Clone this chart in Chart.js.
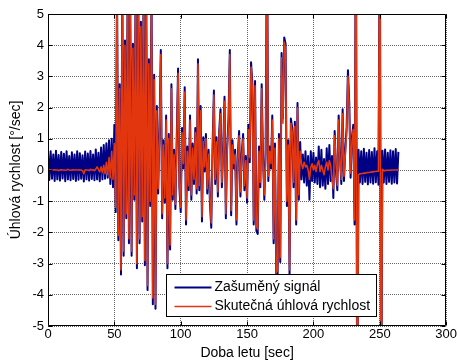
<!DOCTYPE html>
<html>
<head>
<meta charset="utf-8">
<script src="https://cdn.jsdelivr.net/npm/chart.js@4/dist/chart.umd.min.js"></script>
<style>
  html, body { margin: 0; padding: 0; background: #fff; }
  #wrap { width: 458px; height: 362px; }
</style>
</head>
<body>
<div id="wrap"><canvas id="chart" width="458" height="362"></canvas></div>
<script>
// Sampling period of both records [s]; sample i is taken at i * sampleStep.
const sampleStep = 1;

// Measured (noisy) angular rate [deg/s], t = 0 … 264 s
const noisySignal = [
  0.55,-0.32,0.6,-0.28,0.5,-0.35,0.62,-0.3,0.48,-0.34,
  0.58,-0.27,0.52,-0.36,0.6,-0.3,0.45,-0.33,0.57,-0.29,
  0.5,-0.35,0.6,-0.31,0.54,-0.28,0.47,-0.37,0.59,-0.3,
  0.53,-0.34,0.61,-0.29,0.5,-0.33,0.66,-0.3,0.55,-0.36,
  0.72,-0.3,0.8,-0.28,0.86,-0.25,0.95,-0.45,1.0,-0.55,
  1.45,-1.35,6,-2.25,2.75,-3.35,6,-2.75,4.15,-1.55,
  6,-2.35,5.15,-2.75,4.05,-0.95,6,-3.15,6,-2.35,
  4.75,-1.65,6,-3.05,6,-3.85,3.55,-1.15,6,-4.3,
  3.05,-4.45,2.05,-0.75,1.35,3.85,-1.55,0.95,-1.05,1.75,
  -3.15,1.15,-2.55,2.75,-0.95,0.65,-1.25,1.05,3.25,-0.55,
  -1.35,1.35,0.05,2.65,-1.75,0.75,-0.65,1.75,-0.95,0.85,
  -0.45,1.35,-0.75,3.55,-0.65,2.05,-1.65,1.05,-0.05,1.15,
  -0.75,0.65,-1.05,-1.85,0.75,2.55,-0.45,1.05,-0.85,1.25,
  1.95,-0.55,0.65,2.35,-1.55,0.75,1.65,3.85,-1.45,0.95,
  0.05,0.65,-1.75,0.45,1.25,-0.85,0.55,1.15,-0.65,0.45,
  -1.05,1.45,0.25,3.45,2.75,-1.75,2.85,-1.95,-2.05,0.75,
  -0.55,2.75,0.45,-0.95,0.65,8,-0.35,0.75,0.05,1.75,
  -2.35,0.85,-3.45,-3.35,1.15,-2.95,3.75,1.65,4.25,4.05,
  -1.15,0.95,-3.35,1.65,1.35,-0.55,1.55,-1.75,2.15,-0.95,
  0.9,-0.3,0.5,-0.4,0.6,-0.5,0.45,-0.95,0.6,-0.35,
  0.55,-0.4,0.4,-0.45,0.75,-0.55,0.65,-0.5,0.35,-0.6,
  0.7,-0.45,0.8,-0.35,0.45,-0.9,1.25,-0.05,-0.65,1.75,
  0.45,-0.45,1.95,-0.35,0.65,1.35,3.2,2.15,-0.25,1.05,
  1.45,-1.75,9,-9,0.65,-0.4,0.6,-0.45,0.68,-0.38,
  0.55,-0.46,0.64,-0.4,0.58,-0.44,0.7,-0.39,0.6,-0.47,
  9,-9,0.62,-0.4,0.66,-0.45,0.55,-0.38,0.63,-0.44,
  0.6,-0.4,0.67,-0.43,0.58
];

// True angular rate [deg/s], t = 0 … 264 s
const trueRate = [
  0,0.01,0,-0.01,0,0.01,0,0,-0.02,0,
  0.01,0,0,-0.01,0,0.02,0,-0.01,0,0.01,
  0,0,0,0,0.01,0,-0.02,-0.12,0.01,0,
  0,-0.02,0.02,0,0.01,-0.02,0.03,0.1,0.02,-0.06,
  0.1,-0.08,0.15,-0.12,0.25,-0.15,0.4,-0.25,0.6,-0.3,
  0.85,-1.2,5.8,-2.1,2.6,-3.2,6,-2.6,4.0,-1.4,
  6,-2.2,5.0,-2.6,3.9,-0.8,5.6,-3.0,6,-2.2,
  4.6,-1.5,5.5,-2.9,6,-3.7,3.4,-1.0,5.5,-4.1,
  2.9,-4.3,1.9,-0.6,1.2,3.7,-1.4,0.8,-0.9,1.6,
  -3.0,1.0,-2.4,2.6,-0.8,0.5,-1.1,0.9,3.1,-0.4,
  -1.2,1.2,0.2,2.5,-1.6,0.6,-0.5,1.6,-0.8,0.7,
  -0.3,1.2,-0.6,3.4,-0.5,1.9,-1.5,0.9,0.1,1.0,
  -0.6,0.5,-0.9,-1.7,0.6,2.4,-0.3,0.9,-0.7,1.1,
  1.8,-0.4,0.5,2.2,-1.4,0.6,1.5,3.7,-1.3,0.8,
  0.2,0.5,-1.6,0.3,1.1,-0.7,0.4,1.0,-0.5,0.3,
  -0.9,1.3,0.4,3.3,2.6,-1.6,2.7,-1.8,-1.9,0.6,
  -0.4,2.6,0.3,-0.8,0.5,8,-0.2,0.6,0.2,1.6,
  -2.2,0.7,-3.3,-3.2,1.0,-2.8,3.6,1.5,4.1,3.9,
  -1.0,0.8,-3.2,1.5,1.2,-0.4,1.4,-1.6,2.0,-0.8,
  0.6,0.2,0.05,0.25,0.1,0.15,0,-0.3,0.1,0.2,
  0,0.15,-0.05,0.2,0.3,-0.05,0.15,0,-0.15,0.1,
  0.25,0,0.3,0.15,-0.3,-0.6,1.1,0.2,-0.5,1.6,
  0.3,-0.3,1.8,-0.2,0.5,1.2,3.0,2.0,-0.1,0.9,
  1.3,-1.6,9,-9,-0.15,-0.12,-0.12,-0.11,-0.1,-0.1,
  -0.09,-0.08,-0.08,-0.07,-0.06,-0.06,-0.05,-0.05,-0.04,-0.04,
  9,-9,0.02,-0.02,-0.02,-0.01,-0.01,-0.01,-0.01,0,
  0,0,0,0,0
];

const xTicks = [0, 50, 100, 150, 200, 250, 300];
const yTicks = [-5, -4, -3, -2, -1, 0, 1, 2, 3, 4, 5];
const seriesNames = ['Zašuměný signál', 'Skutečná úhlová rychlost'];
const xTitle = 'Doba letu [sec]';
const yTitle = 'Úhlová rychlost [°/sec]';

const NAVY = '#000085';
const ORANGE = '#e2360e';
const FONT = "Arial, 'Liberation Sans', sans-serif";

const toPoints = arr => arr.map((v, i) => ({ x: i * sampleStep, y: v }));

// Axes box with inward tick marks on all four sides
const boxPlugin = {
  id: 'boxAxes',
  afterDatasetsDraw(chart) {
    const { ctx, chartArea: a, scales } = chart;
    const L = Math.round(a.left) + 0.5, R = Math.round(a.right) - 0.5;
    const T = Math.round(a.top) + 0.5, B = Math.round(a.bottom) - 0.5;
    const len = 4;
    ctx.save();
    ctx.strokeStyle = '#000';
    ctx.lineWidth = 1;
    ctx.beginPath();
    ctx.rect(L, T, R - L, B - T);
    xTicks.forEach(v => {
      const px = Math.round(scales.x.getPixelForValue(v)) + 0.5;
      ctx.moveTo(px, B); ctx.lineTo(px, B - len);
      ctx.moveTo(px, T); ctx.lineTo(px, T + len);
    });
    yTicks.forEach(v => {
      const py = Math.round(scales.y.getPixelForValue(v)) + 0.5;
      ctx.moveTo(L, py); ctx.lineTo(L + len, py);
      ctx.moveTo(R, py); ctx.lineTo(R - len, py);
    });
    ctx.stroke();
    ctx.restore();
  }
};

// Boxed legend in the lower right part of the axes
const legendPlugin = {
  id: 'boxLegend',
  afterDraw(chart) {
    const { ctx, chartArea: a } = chart;
    const w = 210, h = 42;
    const x0 = Math.round(a.right - 70 - w) + 0.5;
    const y0 = Math.round(a.bottom - 10 - h) + 0.5;
    ctx.save();
    ctx.fillStyle = '#fff';
    ctx.fillRect(x0, y0, w, h);
    ctx.strokeStyle = '#000';
    ctx.lineWidth = 1;
    ctx.strokeRect(x0, y0, w, h);
    const rows = [
      { name: seriesNames[0], color: NAVY, width: 2.2, dy: 12 },
      { name: seriesNames[1], color: ORANGE, width: 1.5, dy: 31.5 }
    ];
    ctx.font = '14px ' + FONT;
    ctx.textBaseline = 'middle';
    ctx.textAlign = 'left';
    rows.forEach(r => {
      const y = Math.round(y0 + r.dy) + 0.5;
      ctx.strokeStyle = r.color;
      ctx.lineWidth = r.width;
      ctx.beginPath();
      ctx.moveTo(x0 + 8, y);
      ctx.lineTo(x0 + 45, y);
      ctx.stroke();
      ctx.fillStyle = '#000';
      ctx.fillText(r.name, x0 + 48, y);
    });
    ctx.restore();
  }
};

const gridStyle = {
  color: 'rgba(0,0,0,0.6)',
  lineWidth: 1,
  drawTicks: false
};

new Chart(document.getElementById('chart'), {
  type: 'line',
  data: {
    datasets: [
      {
        label: seriesNames[0],
        data: toPoints(noisySignal),
        borderColor: NAVY,
        borderWidth: 2,
        borderJoinStyle: 'round',
        pointRadius: 0,
        tension: 0,
        order: 2
      },
      {
        label: seriesNames[1],
        data: toPoints(trueRate),
        borderColor: ORANGE,
        borderWidth: 1.6,
        borderJoinStyle: 'round',
        pointRadius: 0,
        tension: 0,
        order: 1
      }
    ]
  },
  options: {
    responsive: false,
    animation: false,
    devicePixelRatio: 1,
    layout: { padding: { top: 14, right: 11, bottom: 0, left: 0 } },
    plugins: {
      legend: { display: false },
      tooltip: { enabled: false }
    },
    scales: {
      x: {
        type: 'linear',
        min: 0,
        max: 300,
        afterBuildTicks: s => { s.ticks = xTicks.map(v => ({ value: v })); },
        ticks: { color: '#000', font: { family: FONT, size: 13 }, padding: 1, maxRotation: 0 },
        grid: gridStyle,
        border: { display: false, dash: [1, 1] },
        title: { display: true, text: xTitle, color: '#000', font: { family: FONT, size: 14 }, padding: { top: 0, bottom: 0 } },
        afterFit: s => { s.height = 36; }
      },
      y: {
        type: 'linear',
        min: -5,
        max: 5,
        afterBuildTicks: s => { s.ticks = yTicks.map(v => ({ value: v })); },
        ticks: { color: '#000', font: { family: FONT, size: 13 }, padding: 4 },
        grid: gridStyle,
        border: { display: false, dash: [1, 1] },
        title: { display: true, text: yTitle, color: '#000', font: { family: FONT, size: 14 }, padding: { top: 8, bottom: 0 } },
        afterFit: s => { s.width = 48; }
      }
    }
  },
  plugins: [boxPlugin, legendPlugin]
});
</script>
</body>
</html>
